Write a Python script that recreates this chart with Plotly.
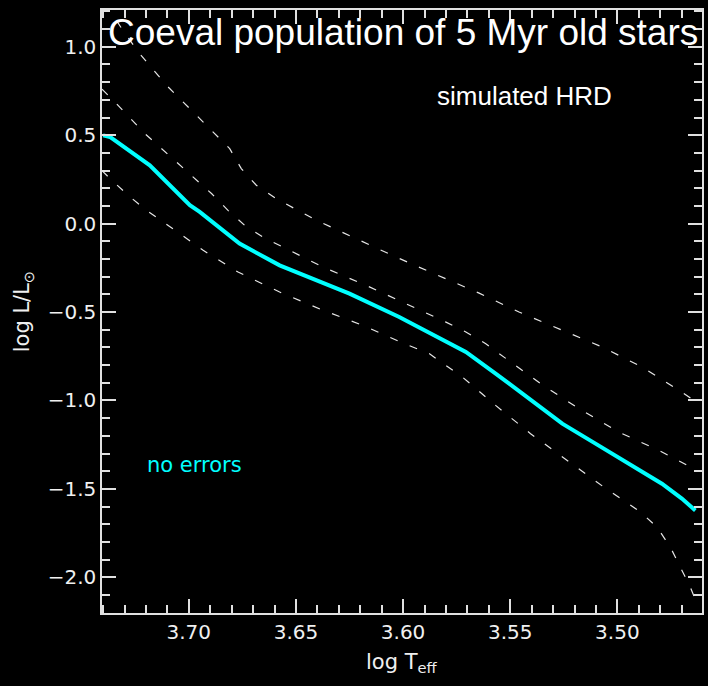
import plotly.graph_objects as go

# Isochrone track (no errors) and the surrounding dashed envelopes
teff_track = [3.7400, 3.7368, 3.7182, 3.6995, 3.6949, 3.6763, 3.6576, 3.6250,
              3.6018, 3.5785, 3.5707, 3.5568, 3.5413, 3.5257, 3.5102, 3.4792,
              3.4699, 3.4636]
lum_track = [0.499, 0.490, 0.330, 0.104, 0.066, -0.113, -0.236, -0.396,
             -0.528, -0.679, -0.726, -0.848, -0.990, -1.131, -1.244, -1.471,
             -1.555, -1.622]

teff_upper = [3.7405, 3.7368, 3.7313, 3.7236, 3.7104, 3.6949, 3.6809, 3.6755,
              3.6685, 3.6592, 3.6405, 3.6219, 3.6033, 3.5839, 3.5645, 3.5459,
              3.5257, 3.5071, 3.4885, 3.4699, 3.4621]
lum_upper = [1.225, 1.206, 1.103, 0.971, 0.782, 0.594, 0.424, 0.311,
             0.217, 0.141, 0.019, -0.085, -0.189, -0.292, -0.393, -0.500,
             -0.604, -0.698, -0.811, -0.953, -1.018]

teff_mid = [3.7405, 3.7352, 3.7205, 3.7050, 3.6894, 3.6817, 3.6739, 3.6654,
            3.6561, 3.6375, 3.6173, 3.5986, 3.5800, 3.5707, 3.5614, 3.5529,
            3.5358, 3.5180, 3.4993, 3.4807, 3.4629]
lum_mid = [0.760, 0.697, 0.509, 0.339, 0.170, 0.075, -0.010, -0.076,
           -0.132, -0.245, -0.349, -0.452, -0.557, -0.613, -0.679, -0.755,
           -0.905, -1.046, -1.179, -1.282, -1.395]

teff_lower = [3.7405, 3.7368, 3.7283, 3.7197, 3.7042, 3.6933, 3.6770, 3.6576,
              3.6382, 3.6189, 3.6002, 3.5878, 3.5723, 3.5568, 3.5405, 3.5234,
              3.5063, 3.4892, 3.4815, 3.4753, 3.4706, 3.4660, 3.4621]
lum_lower = [0.300, 0.255, 0.160, 0.075, -0.057, -0.151, -0.274, -0.387,
             -0.486, -0.575, -0.675, -0.735, -0.868, -1.028, -1.188, -1.339,
             -1.490, -1.631, -1.716, -1.829, -1.942, -2.055, -2.169]

x_range = [3.7405, 3.4605]
y_range = [-2.202, 1.208]

AXIS_COLOR = "#e0e0e0"
TICK_FONT = dict(family="DejaVu Sans", size=20, color="#f0f0f0")

fig = go.Figure()

dash_style = dict(color="#e6e6e6", width=1.2, dash="8px,13px")
for tx, ly in [(teff_upper, lum_upper), (teff_mid, lum_mid), (teff_lower, lum_lower)]:
    fig.add_trace(go.Scatter(x=tx, y=ly, mode="lines", line=dash_style,
                             hoverinfo="skip", showlegend=False))

fig.add_trace(go.Scatter(x=teff_track, y=lum_track, mode="lines",
                         line=dict(color="#00ffff", width=4),
                         showlegend=False))

axis_common = dict(
    showgrid=False, zeroline=False,
    showline=True, linecolor=AXIS_COLOR, linewidth=1.5,
    mirror="ticks", ticks="inside", ticklen=14, tickwidth=1.5,
    tickcolor=AXIS_COLOR, tickfont=TICK_FONT,
)

fig.update_xaxes(range=x_range, dtick=0.05, tick0=3.5, tickformat=".2f",
                 minor=dict(dtick=0.01, ticks="inside", ticklen=8,
                            tickwidth=1.5, tickcolor=AXIS_COLOR),
                 **axis_common)
fig.update_yaxes(range=y_range, dtick=0.5, tick0=0, tickformat=".1f",
                 minor=dict(dtick=0.1, ticks="inside", ticklen=8,
                            tickwidth=1.5, tickcolor=AXIS_COLOR),
                 **axis_common)

fig.add_annotation(text="Coeval population of 5 Myr old stars",
                   xref="paper", yref="paper", x=0.501, y=0.962,
                   xanchor="center", yanchor="middle", showarrow=False,
                   font=dict(family="Liberation Sans", size=37, color="white"))
fig.add_annotation(text="simulated HRD",
                   xref="paper", yref="paper", x=0.704, y=0.857,
                   xanchor="center", yanchor="middle", showarrow=False,
                   font=dict(family="Liberation Sans", size=26, color="white"))
fig.add_annotation(text="no errors",
                   xref="paper", yref="paper", x=0.1545, y=0.2454,
                   xanchor="center", yanchor="middle", showarrow=False,
                   font=dict(family="DejaVu Sans", size=21, color="#00ffff"))
fig.add_annotation(text="log L/L<sub>⊙</sub>",
                   xref="paper", yref="paper", x=-0.132, y=0.50,
                   xanchor="center", yanchor="middle", textangle=-90,
                   showarrow=False,
                   font=dict(family="DejaVu Sans", size=21, color="#f0f0f0"))
fig.add_annotation(text="log T<sub>eff</sub>",
                   xref="paper", yref="paper", x=0.50, y=-0.083,
                   xanchor="center", yanchor="middle", showarrow=False,
                   font=dict(family="DejaVu Sans", size=21, color="#f0f0f0"))

fig.update_layout(
    width=708, height=686,
    margin=dict(l=102, r=4, t=10, b=73),
    paper_bgcolor="black", plot_bgcolor="black",
)

fig.write_html("out.html")
